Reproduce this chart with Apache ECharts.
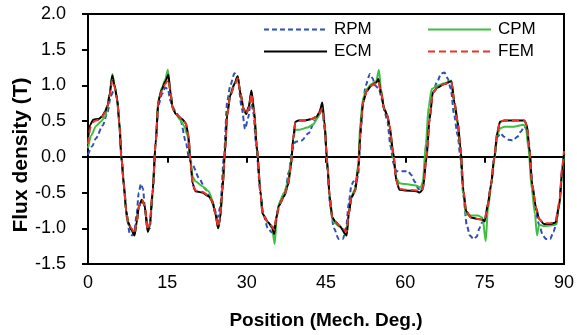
<!DOCTYPE html>
<html>
<head>
<meta charset="utf-8">
<script src="https://cdn.jsdelivr.net/npm/echarts@6/dist/echarts.min.js"></script>
<style>html,body{margin:0;padding:0;background:#fff}#c{width:577px;height:335px}</style>
</head>
<body>
<div id="c"></div>
<script>
const xTicks = { min: 0, max: 90, interval: 15 };
const yTicks = { min: -1.5, max: 2.0, interval: 0.5 };
const seriesNames = ['RPM', 'CPM', 'ECM', 'FEM'];

const rpm = [[0,0.03],[0.8,0.15],[1.5,0.26],[2.8,0.44],[3.7,0.63],[4.3,0.85],[4.8,0.92],[5.2,0.9],[5.6,0.75],[6.0,0.4],[6.4,-0.05],[6.9,-0.5],[7.4,-0.88],[7.9,-1.08],[8.4,-1.1],[8.8,-1.02],[9.2,-0.8],[9.6,-0.5],[10.0,-0.38],[10.4,-0.45],[10.8,-0.75],[11.3,-0.98],[11.7,-1.0],[12.2,-0.55],[12.8,0.2],[13.3,0.72],[14.0,0.88],[14.6,0.97],[15.1,0.95],[15.6,0.78],[16.0,0.7],[16.6,0.63],[17.5,0.51],[18.5,0.21],[19.1,-0.02],[19.8,-0.12],[21.0,-0.3],[22.2,-0.45],[23.0,-0.55],[23.6,-0.66],[24.5,-0.85],[25.0,-0.7],[25.7,0.0],[26.3,0.76],[26.9,1.0],[27.7,1.17],[28.3,1.1],[29.1,0.67],[29.7,0.39],[30.3,0.55],[30.8,0.8],[31.3,0.6],[31.8,0.15],[32.6,-0.5],[33.2,-0.82],[34.0,-1.0],[34.8,-1.06],[35.4,-0.95],[35.8,-0.78],[36.5,-0.6],[37.3,-0.48],[38.0,-0.2],[38.6,0.1],[39.2,0.21],[40.4,0.23],[41.7,0.33],[42.9,0.51],[43.8,0.6],[44.3,0.68],[44.8,0.35],[45.3,-0.2],[45.8,-0.7],[46.5,-1.0],[47.4,-1.15],[48.2,-1.15],[48.8,-1.0],[49.3,-0.65],[49.8,-0.4],[50.2,-0.34],[50.6,-0.42],[51.1,-0.25],[51.5,0.3],[52.0,0.75],[52.5,1.0],[53.3,1.16],[53.8,1.1],[54.3,1.0],[55.0,0.95],[55.6,0.8],[56.1,0.63],[56.6,0.5],[57.2,0.15],[57.8,-0.1],[58.3,-0.2],[59.5,-0.2],[60.5,-0.2],[61.1,-0.25],[61.8,-0.35],[62.5,-0.45],[63.0,-0.48],[63.5,-0.3],[64.0,0.2],[64.6,0.6],[65.2,0.9],[66.0,1.05],[66.8,1.17],[67.4,1.18],[68.0,1.1],[68.6,0.95],[69.2,0.6],[69.9,0.3],[70.4,0.0],[71.0,-0.55],[71.6,-0.95],[72.2,-1.1],[72.9,-1.15],[73.5,-1.12],[74.0,-1.0],[74.5,-0.92],[75.0,-0.9],[75.6,-0.67],[76.2,-0.39],[76.8,-0.02],[77.4,0.28],[78.0,0.33],[78.7,0.28],[79.5,0.24],[80.3,0.23],[81.2,0.28],[81.8,0.35],[82.5,0.42],[83.0,0.38],[83.5,0.1],[84.0,-0.4],[84.6,-0.75],[85.3,-0.95],[86.0,-1.1],[86.6,-1.15],[87.4,-1.15],[88.0,-1.05],[88.5,-0.95],[89.1,-0.67],[89.7,-0.16],[90,0.02]];

const cpm = [[0,0.12],[0.6,0.3],[1.5,0.43],[2.5,0.5],[3.2,0.56],[3.7,0.68],[4.1,0.88],[4.6,1.16],[5.0,1.02],[5.5,0.82],[5.9,0.5],[6.3,0.0],[6.8,-0.4],[7.2,-0.75],[7.6,-0.92],[8.2,-1.02],[8.8,-1.1],[9.2,-0.92],[9.6,-0.7],[10.2,-0.6],[10.7,-0.68],[11.3,-1.05],[11.7,-0.95],[12.2,-0.5],[12.8,0.2],[13.3,0.8],[14.0,0.97],[14.6,1.08],[15.1,1.22],[15.5,0.95],[16.0,0.7],[16.6,0.6],[17.4,0.52],[18.2,0.43],[18.8,0.3],[19.3,0.0],[19.8,-0.28],[20.3,-0.34],[21.6,-0.41],[22.8,-0.48],[23.5,-0.6],[24.1,-0.8],[24.6,-1.0],[25.0,-0.85],[25.4,-0.48],[25.9,0.07],[26.3,0.6],[26.9,0.88],[27.7,1.03],[28.3,1.13],[28.8,0.9],[29.4,0.68],[29.9,0.6],[30.4,0.7],[30.9,0.9],[31.4,0.65],[31.9,0.16],[32.6,-0.48],[33.0,-0.8],[34.1,-0.92],[34.8,-1.0],[35.3,-1.22],[35.7,-0.85],[36.1,-0.65],[37.1,-0.5],[37.8,-0.35],[38.4,-0.05],[38.8,0.25],[39.2,0.38],[40.0,0.38],[41.5,0.41],[42.5,0.45],[43.5,0.55],[44.2,0.72],[44.7,0.5],[45.2,-0.05],[45.7,-0.6],[46.2,-0.88],[46.7,-0.93],[47.6,-0.98],[48.9,-1.1],[49.3,-0.8],[49.8,-0.55],[50.5,-0.45],[51.1,-0.1],[51.5,0.5],[52.0,0.82],[52.7,0.95],[53.6,1.02],[54.5,1.06],[55.0,1.22],[55.4,0.95],[56.0,0.68],[56.6,0.58],[57.0,0.42],[57.7,0.0],[58.3,-0.3],[58.9,-0.37],[60.0,-0.38],[62.0,-0.4],[62.9,-0.43],[63.3,-0.35],[63.9,0.2],[64.4,0.7],[65.0,0.95],[66.1,1.0],[67.4,1.03],[68.7,1.07],[69.3,0.72],[69.9,0.45],[70.4,0.1],[71.0,-0.55],[71.4,-0.8],[72.4,-0.82],[73.7,-0.82],[74.6,-0.85],[75.2,-1.18],[75.6,-0.75],[76.2,-0.42],[76.8,-0.05],[77.4,0.3],[77.9,0.4],[78.7,0.42],[80.5,0.42],[82.3,0.45],[82.8,0.42],[83.3,0.1],[83.9,-0.45],[84.5,-0.8],[84.9,-1.1],[85.3,-0.95],[86.2,-0.97],[87.5,-0.96],[88.4,-0.95],[89.1,-0.7],[89.7,-0.2],[90,0.02]];

const ecm = [[0,0.25],[0.4,0.45],[1.0,0.52],[2.0,0.53],[2.6,0.56],[3.2,0.63],[3.7,0.72],[4.1,0.88],[4.6,1.14],[5.0,1.0],[5.5,0.82],[5.9,0.5],[6.3,0.0],[6.8,-0.4],[7.2,-0.75],[7.6,-0.92],[8.2,-1.02],[8.8,-1.1],[9.2,-0.92],[9.6,-0.7],[10.2,-0.6],[10.7,-0.68],[11.3,-1.05],[11.7,-0.95],[12.2,-0.5],[12.8,0.2],[13.3,0.78],[14.0,0.95],[14.6,1.05],[15.2,1.15],[15.6,0.9],[16.0,0.68],[16.6,0.6],[17.8,0.53],[18.5,0.47],[19.0,0.3],[19.4,-0.1],[19.8,-0.38],[20.3,-0.48],[21.6,-0.5],[22.8,-0.55],[23.5,-0.62],[24.1,-0.8],[24.6,-1.0],[25.0,-0.85],[25.4,-0.48],[25.9,0.07],[26.3,0.58],[26.9,0.86],[27.7,1.02],[28.3,1.13],[28.8,0.9],[29.4,0.68],[29.9,0.6],[30.4,0.7],[30.9,0.93],[31.4,0.65],[31.9,0.16],[32.6,-0.48],[33.0,-0.8],[34.1,-0.92],[34.8,-0.98],[35.2,-1.08],[35.6,-0.85],[36.1,-0.68],[37.1,-0.55],[37.8,-0.4],[38.4,-0.12],[38.8,0.26],[39.2,0.49],[39.8,0.51],[41.0,0.51],[42.3,0.53],[43.2,0.56],[43.8,0.63],[44.3,0.76],[44.7,0.5],[45.2,-0.05],[45.7,-0.55],[46.2,-0.85],[46.7,-0.9],[47.6,-0.97],[48.9,-1.1],[49.3,-0.8],[49.8,-0.57],[50.5,-0.48],[51.1,-0.16],[51.6,0.44],[52.0,0.76],[52.7,0.92],[53.6,1.0],[54.5,1.04],[54.9,1.09],[55.4,0.9],[56.0,0.67],[56.6,0.58],[57.0,0.44],[57.7,0.07],[58.3,-0.34],[58.9,-0.46],[59.9,-0.47],[62.1,-0.48],[62.7,-0.5],[63.3,-0.46],[64.0,-0.02],[64.6,0.53],[65.2,0.9],[66.1,0.97],[67.4,1.02],[68.7,1.06],[69.3,0.76],[69.9,0.49],[70.4,0.16],[71.0,-0.48],[71.5,-0.76],[72.4,-0.85],[73.7,-0.87],[74.6,-0.88],[75.0,-0.9],[75.6,-0.67],[76.2,-0.39],[76.8,-0.02],[77.4,0.35],[77.9,0.49],[78.7,0.51],[82.5,0.51],[83.0,0.44],[83.4,0.16],[84.0,-0.39],[84.7,-0.71],[85.3,-0.87],[86.2,-0.94],[87.5,-0.94],[88.4,-0.92],[89.1,-0.67],[89.7,-0.16],[90,0.05]];

const fem = [[0,0.18],[0.5,0.42],[1.2,0.5],[2.0,0.52],[2.6,0.55],[3.2,0.62],[3.7,0.7],[4.1,0.86],[4.6,1.08],[5.0,0.98],[5.5,0.8],[5.9,0.5],[6.3,0.0],[6.8,-0.4],[7.2,-0.75],[7.6,-0.92],[8.2,-1.0],[8.8,-1.07],[9.2,-0.92],[9.6,-0.7],[10.2,-0.6],[10.7,-0.68],[11.3,-1.02],[11.7,-0.93],[12.2,-0.5],[12.8,0.2],[13.3,0.78],[14.0,0.93],[14.6,1.02],[15.2,1.08],[15.6,0.9],[16.0,0.68],[16.6,0.6],[17.8,0.53],[18.5,0.47],[19.0,0.3],[19.4,-0.1],[19.8,-0.38],[20.3,-0.47],[21.6,-0.49],[22.8,-0.54],[23.5,-0.62],[24.1,-0.8],[24.6,-0.98],[25.0,-0.85],[25.4,-0.48],[25.9,0.07],[26.3,0.58],[26.9,0.86],[27.7,1.0],[28.3,1.1],[28.8,0.9],[29.4,0.68],[29.9,0.6],[30.4,0.68],[30.9,0.88],[31.4,0.63],[31.9,0.16],[32.6,-0.48],[33.0,-0.8],[34.1,-0.92],[34.8,-0.97],[35.2,-1.02],[35.6,-0.85],[36.1,-0.68],[37.1,-0.55],[37.8,-0.4],[38.4,-0.12],[38.8,0.26],[39.2,0.48],[39.8,0.51],[41.0,0.51],[42.3,0.53],[43.2,0.56],[43.8,0.62],[44.3,0.68],[44.7,0.48],[45.2,-0.05],[45.7,-0.55],[46.2,-0.85],[46.7,-0.9],[47.6,-0.96],[48.9,-1.05],[49.3,-0.8],[49.8,-0.57],[50.5,-0.48],[51.1,-0.16],[51.6,0.44],[52.0,0.76],[52.7,0.92],[53.6,1.0],[54.5,1.03],[54.9,1.06],[55.4,0.9],[56.0,0.67],[56.6,0.58],[57.0,0.44],[57.7,0.07],[58.3,-0.34],[58.9,-0.45],[59.9,-0.46],[62.1,-0.47],[62.7,-0.48],[63.3,-0.45],[64.0,-0.02],[64.6,0.53],[65.2,0.9],[66.1,0.97],[67.4,1.02],[68.7,1.05],[69.3,0.76],[69.9,0.49],[70.4,0.16],[71.0,-0.48],[71.5,-0.76],[72.4,-0.85],[73.7,-0.87],[74.6,-0.88],[75.0,-0.88],[75.6,-0.67],[76.2,-0.39],[76.8,-0.02],[77.4,0.35],[77.9,0.49],[78.7,0.51],[82.5,0.51],[83.0,0.44],[83.4,0.16],[84.0,-0.39],[84.7,-0.71],[85.3,-0.87],[86.2,-0.93],[87.5,-0.93],[88.4,-0.9],[89.1,-0.64],[89.7,-0.12],[90,0.08]];

const colors = { RPM: '#2f4fb3', CPM: '#3fbf3f', ECM: '#000000', FEM: '#e8352b' };
const FONT = '"Liberation Sans", Arial, sans-serif';

const chart = echarts.init(document.getElementById('c'), null, { renderer: 'canvas' });

function line(name, data, type, dash) {
  return {
    name: name, type: 'line', data: data, symbol: 'none', showSymbol: false,
    smooth: 0.25, smoothMonotone: 'x', animation: false,
    lineStyle: { color: colors[name], width: 2, type: dash || type },
    itemStyle: { color: colors[name] }
  };
}
function leg(name, left, top) {
  return {
    data: [name], left: left, top: top, padding: 0, itemWidth: 63, itemHeight: 14,
    itemGap: 0, selectedMode: false,
    itemStyle: { opacity: 0 },
    textStyle: { color: '#000', fontSize: 17, fontFamily: FONT, padding: [0, 0, 0, 2] }
  };
}

chart.setOption({
  animation: false,
  backgroundColor: '#fff',
  grid: { left: 88, right: 11, top: 14, bottom: 68, show: true, borderColor: '#000', borderWidth: 2 },
  legend: [leg('RPM', 263, 21), leg('CPM', 427, 21), leg('ECM', 263, 43), leg('FEM', 427, 43)],
  xAxis: {
    type: 'value', min: xTicks.min, max: xTicks.max, interval: xTicks.interval,
    name: 'Position (Mech. Deg.)', nameLocation: 'middle', nameGap: 47,
    nameTextStyle: { color: '#000', fontSize: 19, fontWeight: 'bold', fontFamily: FONT },
    axisLine: { lineStyle: { color: '#000', width: 2 } },
    axisTick: { show: true, inside: false, length: 6, lineStyle: { color: '#000', width: 2 } },
    splitLine: { show: false },
    axisLabel: { color: '#000', fontSize: 18, fontFamily: FONT, margin: 10 }
  },
  yAxis: {
    type: 'value', min: yTicks.min, max: yTicks.max, interval: yTicks.interval,
    axisLine: { show: true, lineStyle: { color: '#000', width: 2 } },
    axisTick: { show: true, inside: false, length: 6, lineStyle: { color: '#000', width: 2 } },
    splitLine: { show: false },
    axisLabel: { color: '#000', fontSize: 18, fontFamily: FONT, margin: 22, formatter: v => v.toFixed(1) }
  },
  graphic: [{
    type: 'text', x: 21, y: 155, rotation: Math.PI / 2,
    style: { text: 'Flux density (T)', fill: '#000', font: 'bold 21px ' + FONT, align: 'center', verticalAlign: 'middle' }
  }],
  series: [
    line('RPM', rpm, 'dashed', [5, 3]),
    line('CPM', cpm, 'solid'),
    line('ECM', ecm, 'solid'),
    line('FEM', fem, 'dashed', [7, 4])
  ]
});
</script>
</body>
</html>
